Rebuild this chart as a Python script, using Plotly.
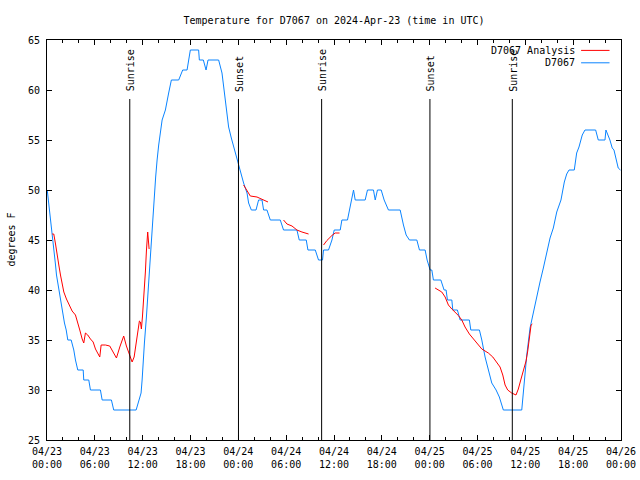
import pandas as pd
import plotly.graph_objects as go

START = pd.Timestamp("2024-04-23 00:00")
END = pd.Timestamp("2024-04-26 00:00")

# Observed D7067 temperature (hours since 04/23 00:00 UTC, deg F)
obs_hours = [0.03, 0.23, 0.44, 0.65, 0.78, 0.94, 1.07, 1.19, 1.35, 1.48, 1.69, 1.82, 1.98, 2.19, 2.41,
             2.61, 3.03, 3.36, 3.57, 3.86, 4.54, 4.61, 5.24, 5.45, 6.70, 6.92, 8.08, 8.37, 11.18,
             11.38, 11.59, 11.80, 11.93, 12.06, 12.22, 12.47, 12.63, 12.84, 13.09, 13.26, 13.47,
             13.63, 13.81, 14.01, 14.44, 14.85, 15.26, 15.60, 16.52, 17.02, 17.57, 17.98, 19.02,
             19.11, 19.61, 19.95, 20.20, 21.53, 21.95, 22.37, 22.78, 23.12, 23.62, 24.04, 24.66,
             25.09, 25.29, 25.63, 26.22, 26.54, 26.97, 27.17, 27.59, 28.01, 29.26, 29.67, 31.35,
             31.64, 32.52, 32.73, 33.65, 34.06, 34.56, 34.69, 35.31, 35.74, 36.03, 36.78, 36.99,
             37.69, 37.95, 38.25, 38.45, 38.66, 39.91, 40.20, 40.95, 41.17, 41.45, 41.92, 42.29,
             42.83, 44.30, 44.71, 45.05, 45.46, 46.39, 46.72, 47.43, 47.68, 48.06, 48.27, 48.47,
             49.40, 49.81, 50.06, 50.23, 50.78, 50.90, 51.48, 51.82, 52.98, 53.16, 54.24, 54.54,
             54.95, 55.36, 55.79, 56.33, 56.74, 57.24, 59.55, 59.87, 60.18, 60.59, 61.00, 61.43,
             61.84, 62.26, 62.68, 63.10, 63.51, 63.94, 64.47, 64.89, 65.19, 65.48, 66.14, 66.44,
             66.73, 67.14, 67.48, 68.82, 69.15, 69.99, 70.11, 70.61, 70.90, 71.12, 71.65, 71.93]
obs_temp = [50, 48.6, 47.5, 45.7, 44.5, 43.5, 42.5, 41.5, 40.7, 40, 39, 38.3, 37.3, 36.7, 36,
            35, 35, 34, 33, 32, 32, 31, 31, 30, 30, 29, 29, 28, 28,
            28.5, 29.2, 29.7, 31, 33, 34.7, 37.3, 39.3, 42, 45.3, 47.3, 49.3,
            51.3, 53, 54.5, 57, 58, 59.7, 61, 61, 62, 62, 64, 64,
            63, 63, 62, 63, 63, 61.7, 59, 56.3, 55.2, 53.7, 52.3, 50.7,
            49.7, 48.7, 48, 48, 49, 49, 48, 48, 47, 47, 46, 46,
            45, 45, 44, 44, 43, 43, 44, 44, 45, 46, 46, 47,
            47, 48, 49, 50, 49, 49, 50, 50, 49, 50, 50, 49,
            48, 48, 46.5, 45.5, 45, 45, 44, 44, 43, 42, 42, 41,
            41, 40, 40, 39, 39, 38, 38, 37, 37, 36, 36, 35,
            33.3, 32, 30.7, 30, 29.3, 28, 28, 30.8, 33.5, 36.2, 37.8, 39.2,
            40.8, 42.2, 43.8, 45.2, 46.2, 47.8, 49, 50.8, 51.6, 52, 52, 53.7,
            54.3, 55.5, 56, 56, 55, 55, 56, 55, 54.2, 54, 52.2, 52]

# Analysis series, in separate segments (hours, deg F)
ana1_hours = [0.65, 0.85, 1.07, 1.28, 1.48, 1.69, 1.90, 2.11, 2.44, 2.86, 3.15, 3.57, 3.86, 4.11,
              4.41, 4.61, 4.82, 5.11, 5.45, 5.79, 6.08, 6.37, 6.62, 6.79, 7.33, 7.87, 8.30, 8.71,
              9.13, 9.62, 9.96, 10.30, 10.46, 10.68, 10.93, 11.18, 11.38, 11.59, 11.72, 11.84,
              11.97, 12.09, 12.22, 12.34, 12.47, 12.63, 12.81]
ana1_temp = [45.6, 45.6, 44.6, 43.3, 42.5, 41.5, 40.5, 39.8, 39.1, 38.4, 37.9, 37.5, 36.8, 36.0,
             35.1, 34.7, 35.7, 35.5, 35.1, 34.8, 34.1, 33.6, 33.3, 34.5, 34.5, 34.4, 33.8, 33.2,
             34.3, 35.4, 34.4, 33.6, 33.1, 32.8, 33.3, 34.6, 35.8, 36.9, 36.8, 36.1,
             37.3, 38.6, 40.3, 41.8, 43.9, 45.8, 44.1]
ana2_hours = [24.66, 25.0, 25.5, 26.34, 26.97, 27.38, 27.72]
ana2_temp = [50.5, 50.0, 49.4, 49.3, 49.1, 48.9, 48.8]
ana3_hours = [29.67, 30.1, 30.73, 31.35, 31.98, 32.81]
ana3_temp = [47.0, 46.6, 46.4, 46.0, 45.8, 45.6]
ana4_hours = [34.69, 35.11, 35.74, 36.15, 36.69]
ana4_temp = [44.5, 44.95, 45.45, 45.7, 45.7]
ana5_hours = [48.68, 49.1, 49.52, 49.94, 50.35, 50.78, 51.19, 51.6, 52.03, 52.44, 52.98, 53.48,
              53.99, 54.54, 54.95, 55.36, 55.92, 56.42, 56.83, 57.17, 57.46, 57.79, 58.29, 58.83,
              59.12, 59.46, 59.75, 60.09, 60.30, 60.5, 60.72, 60.88]
ana5_temp = [40.2, 40.0, 39.8, 39.3, 38.5, 38.1, 37.8, 37.45, 37.0, 36.3, 35.6, 35.1,
             34.6, 34.1, 33.9, 33.7, 33.3, 32.8, 32.3, 31.5, 30.5, 30.0, 29.7, 29.5,
             30.1, 31.1, 31.95, 32.9, 33.9, 35.3, 36.5, 36.6]

sun_times = ["2024-04-23 10:23", "2024-04-24 00:01", "2024-04-24 10:27",
             "2024-04-25 00:02", "2024-04-25 10:22"]
sun_labels = ["Sunrise", "Sunset", "Sunrise", "Sunset", "Sunrise"]


def to_time(hours):
    return list(START + pd.to_timedelta(hours, unit="h"))


ana_x, ana_y = [], []
for hh, tt in [(ana1_hours, ana1_temp), (ana2_hours, ana2_temp), (ana3_hours, ana3_temp),
               (ana4_hours, ana4_temp), (ana5_hours, ana5_temp)]:
    ana_x += to_time(hh) + [None]
    ana_y += list(tt) + [None]

BLUE = "#0a84ff"
RED = "#ff0000"
FONT = "DejaVu Sans Mono"

fig = go.Figure()
fig.add_trace(go.Scatter(x=to_time(obs_hours), y=obs_temp, mode="lines",
                         line=dict(color=BLUE, width=1), name="D7067"))
fig.add_trace(go.Scatter(x=ana_x, y=ana_y, mode="lines", connectgaps=False,
                         line=dict(color=RED, width=1), name="D7067 Analysis"))

for t, lab in zip(sun_times, sun_labels):
    fig.add_shape(type="line", xref="x", yref="y", x0=t, x1=t, y0=25, y1=59.1,
                  line=dict(color="black", width=1))
    fig.add_annotation(x=t, y=59.75, xref="x", yref="y", text=lab, textangle=-90,
                       showarrow=False, yanchor="bottom", xanchor="center", xshift=1,
                       borderpad=0, font=dict(family=FONT, size=10, color="black"))

# manual gnuplot-style key (text, then line sample)
for label, color, py in [("D7067 Analysis", RED, 0.974), ("D7067", BLUE, 0.943)]:
    fig.add_annotation(x=0.921, y=py, xref="paper", yref="paper", text=label,
                       showarrow=False, xanchor="right", yanchor="middle", borderpad=0,
                       font=dict(family=FONT, size=10, color="black"))
    fig.add_shape(type="line", xref="paper", yref="paper", x0=0.9305, x1=0.980,
                  y0=py, y1=py, line=dict(color=color, width=1))

fig.add_annotation(x=-0.0635, y=0.5, xref="paper", yref="paper", text="degrees F",
                   textangle=-90, showarrow=False, xanchor="center", yanchor="middle",
                   font=dict(family=FONT, size=10, color="black"))

axis_common = dict(showgrid=False, zeroline=False, showline=True, linecolor="black",
                   linewidth=1, mirror="allticks", ticks="inside", tickcolor="black",
                   tickwidth=1, automargin=False,
                   tickfont=dict(family=FONT, size=10, color="black"))

fig.update_xaxes(type="date", range=[START, END], tick0=START, dtick=6 * 3600 * 1000,
                 tickformat="%m/%d<br>%H:%M", ticklen=5, ticklabelstandoff=2,
                 minor=dict(dtick=2 * 3600 * 1000, ticks="inside", ticklen=3,
                            tickcolor="black", showgrid=False),
                 **axis_common)
fig.update_yaxes(range=[25, 65], dtick=5, tick0=25, ticklen=5, ticklabelstandoff=4,
                 **axis_common)

fig.update_layout(
    width=640, height=480,
    margin=dict(l=47, r=19, t=40, b=40, autoexpand=False),
    plot_bgcolor="white", paper_bgcolor="white",
    showlegend=False,
    font=dict(family=FONT, size=10, color="black"),
    title=dict(text="Temperature for D7067 on 2024-Apr-23 (time in UTC)",
               x=0.5, xref="paper", xanchor="center",
               y=1 - 20 / 480, yref="container", yanchor="middle",
               font=dict(family=FONT, size=10, color="black")),
)

fig.write_html("out.html")
